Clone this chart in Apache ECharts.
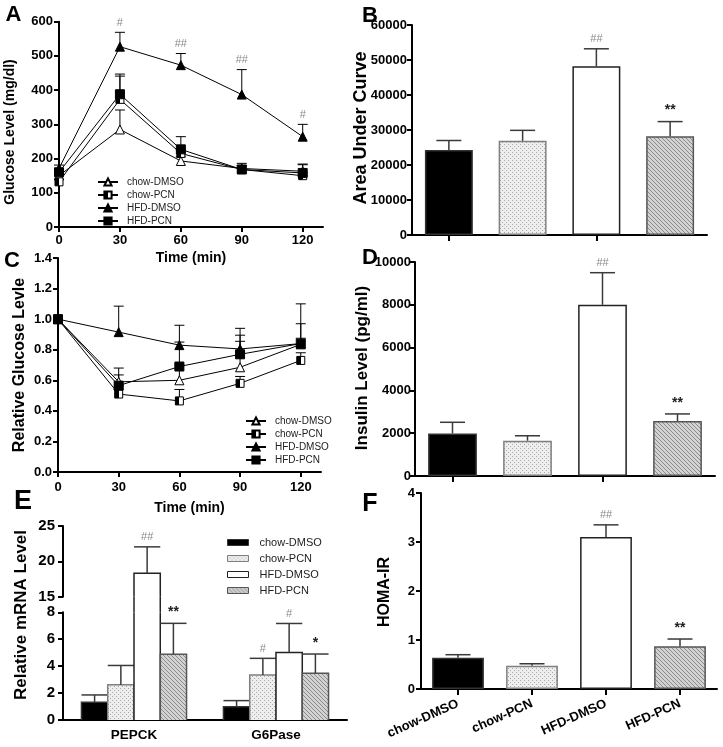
<!DOCTYPE html>
<html><head><meta charset="utf-8">
<script src="https://cdn.jsdelivr.net/npm/echarts@6/dist/echarts.min.js"></script>
<style>html,body{margin:0;padding:0;background:#fff}#c{width:723px;height:747px}</style>
</head><body><div id="c"></div>
<script>
const FONT = '"Liberation Sans", Arial, sans-serif';
const groups = ['chow-DMSO', 'chow-PCN', 'HFD-DMSO', 'HFD-PCN'];
const times = [0, 30, 60, 90, 120];
const timeTicks = [0, 30, 60, 90, 120];

// Panel A: glucose level (mg/dl)
const aChowDmso = [150, 285, 193, 171, 163];
const aChowDmsoErr = [10, 57, 12, 9, 19];
const aChowPcn = [132, 373, 215, 168, 150];
const aChowPcnErr = [8, 74, 12, 12, 10];
const aHfdDmso = [171, 527, 473, 387, 264];
const aHfdDmsoErr = [10, 42, 34, 73, 36];
const aHfdPcn = [160, 388, 227, 168, 158];
const aHfdPcnErr = [10, 53, 37, 18, 26];
const aSigHfdDmso = ['', '#', '##', '##', '#'];

// Panel B: area under curve
const bAuc = [24300, 26900, 48200, 28200];
const bAucErr = [2700, 3000, 5000, 4200];
const bSig = ['', '', '##', '**'];

// Panel C: relative glucose level
const cChowDmso = [1, 0.59, 0.60, 0.685, 0.835];
const cChowDmsoErr = [0, 0.09, 0.10, 0.21, 0.135];
const cChowPcn = [1, 0.51, 0.465, 0.58, 0.73];
const cChowPcnErr = [0, 0.03, 0.075, 0.045, 0.05];
const cHfdDmso = [1, 0.915, 0.83, 0.805, 0.84];
const cHfdDmsoErr = [0, 0.17, 0.13, 0.135, 0.26];
const cHfdPcn = [1, 0.565, 0.69, 0.77, 0.84];
const cHfdPcnErr = [0, 0.07, 0.16, 0.085, 0.035];

// Panel D: insulin level (pg/ml)
const dInsulin = [1990, 1650, 8000, 2570];
const dInsulinErr = [520, 230, 1500, 330];
const dSig = ['', '', '##', '**'];

// Panel E: relative mRNA level
const genes = ['PEPCK', 'G6Pase'];
const eChowDmso = [1.31, 0.99];
const eChowDmsoErr = [0.55, 0.45];
const eChowPcn = [2.62, 3.34];
const eChowPcnErr = [1.43, 1.24];
const eHfdDmso = [18.3, 5.02];
const eHfdDmsoErr = [3.75, 2.15];
const eHfdPcn = [4.88, 3.47];
const eHfdPcnErr = [2.3, 1.43];
const eSigChowDmso = ['', ''];
const eSigChowPcn = ['', '#'];
const eSigHfdDmso = ['##', '#'];
const eSigHfdPcn = ['**', '*'];

// Panel F: HOMA-IR
const fHoma = [0.64, 0.475, 3.10, 0.87];
const fHomaErr = [0.06, 0.04, 0.25, 0.15];
const fSig = ['', '', '##', '**'];

// ---------- styles ----------
function makeDots() {
  const c = document.createElement('canvas'); c.width = 4; c.height = 4;
  const g = c.getContext('2d');
  g.fillStyle = '#eeeeee'; g.fillRect(0, 0, 4, 4);
  g.fillStyle = '#a8a8a8'; g.fillRect(0, 0, 1, 1); g.fillRect(2, 2, 1, 1);
  return c;
}
function makeHatch() {
  const n = 4;
  const c = document.createElement('canvas'); c.width = n; c.height = n;
  const g = c.getContext('2d');
  g.fillStyle = '#d2d2d2'; g.fillRect(0, 0, n, n);
  g.fillStyle = '#8c8c8c';
  for (let i = 0; i < n; i++) g.fillRect(i, i, 1, 1);
  return c;
}
const dotPat = { image: makeDots(), repeat: 'repeat' };
const hatchPat = { image: makeHatch(), repeat: 'repeat' };
const barFill = ['#000000', dotPat, '#ffffff', hatchPat];
const barBorder = ['#333333', '#808080', '#222222', '#555555'];
const errStyle = { stroke: '#3a3a3a', lineWidth: 1.5 };

const halfSq = new echarts.graphic.LinearGradient(0, 0, 1, 0, [
  { offset: 0, color: '#000' }, { offset: 0.5, color: '#000' },
  { offset: 0.5, color: '#fff' }, { offset: 1, color: '#fff' }]);
const lineMarks = [
  { symbol: 'triangle', size: 9, fill: '#ffffff' },
  { symbol: 'rect', size: 8, fill: halfSq },
  { symbol: 'triangle', size: 9, fill: '#000000' },
  { symbol: 'rect', size: 9, fill: '#000000' }
];

function sigText(x, y, s) {
  const hash = s.indexOf('#') >= 0;
  return { type: 'text', x: x, y: y, style: {
    text: s, align: 'center', verticalAlign: 'bottom',
    fill: hash ? '#8a8a8a' : '#222222',
    font: hash ? 'normal 11px ' + FONT : 'bold 14px ' + FONT } };
}

// ---------- axes helpers ----------
function yAx(grid, min, max, interval, fs, margin, extra) {
  return Object.assign({
    type: 'value', gridIndex: grid, min: min, max: max, interval: interval,
    axisLine: { show: true, onZero: false, lineStyle: { color: '#000', width: 2 } },
    axisTick: { show: true, length: 5, lineStyle: { color: '#000', width: 2 } },
    axisLabel: { fontFamily: FONT, fontWeight: 'bold', fontSize: fs, color: '#000', margin: margin,
      formatter: v => String(v) },
    splitLine: { show: false }
  }, extra || {});
}
function timeAx(grid, margin, nameGap) {
  return {
    type: 'value', gridIndex: grid, min: 0, max: 130,
    axisLine: { show: true, onZero: false, lineStyle: { color: '#000', width: 2 } },
    axisTick: { show: true, length: 5, customValues: timeTicks, lineStyle: { color: '#000', width: 2 } },
    axisLabel: { customValues: timeTicks, fontFamily: FONT, fontWeight: 'bold', fontSize: 13, color: '#000', margin: margin },
    splitLine: { show: false },
    name: 'Time (min)', nameLocation: 'middle', nameGap: nameGap,
    nameTextStyle: { fontFamily: FONT, fontWeight: 'bold', fontSize: 14, color: '#000' }
  };
}
function catAx(grid, data, labelOpt, tickShow) {
  return {
    type: 'category', gridIndex: grid, data: data,
    axisLine: { show: true, onZero: false, lineStyle: { color: '#000', width: 2 } },
    axisTick: { show: tickShow, alignWithLabel: true, length: 6, lineStyle: { color: '#000', width: 2 } },
    axisLabel: Object.assign({ fontFamily: FONT, fontWeight: 'bold', color: '#000' }, labelOpt),
    splitLine: { show: false }
  };
}
function hiddenCat(grid, data) {
  return { type: 'category', gridIndex: grid, data: data, show: false };
}

// ---------- series helpers ----------
function lineSeries(prefix, axis, vals, j) {
  const m = lineMarks[j];
  return {
    type: 'line', name: prefix + '|' + groups[j], xAxisIndex: axis, yAxisIndex: axis,
    data: times.map((t, i) => [t, vals[i]]),
    symbol: m.symbol, symbolSize: m.size, showAllSymbol: true,
    itemStyle: { color: m.fill, borderColor: '#000', borderWidth: 1 },
    lineStyle: { color: '#000', width: 1 }, z: 3
  };
}
function lineErr(axis, vals, errs, sigs, name) {
  return {
    type: 'custom', name: name, xAxisIndex: axis, yAxisIndex: axis, z: 2,
    data: times.map((t, i) => [t, vals[i], errs[i]]),
    renderItem: function (params, api) {
      const i = params.dataIndex;
      const t = api.value(0), v = api.value(1), e = api.value(2);
      const ch = [];
      const p0 = api.coord([t, v]), p1 = api.coord([t, v + e]);
      if (e > 0) {
        ch.push({ type: 'line', shape: { x1: p0[0], y1: p0[1], x2: p1[0], y2: p1[1] }, style: { stroke: '#000', lineWidth: 1 } });
        ch.push({ type: 'line', shape: { x1: p1[0] - 5, y1: p1[1], x2: p1[0] + 5, y2: p1[1] }, style: { stroke: '#000', lineWidth: 1 } });
      }
      if (sigs && sigs[i]) ch.push(sigText(p1[0], p1[1] - 4, sigs[i]));
      return { type: 'group', children: ch };
    }
  };
}
function barSeries(axis, vals, name) {
  return {
    type: 'bar', name: name, xAxisIndex: axis, yAxisIndex: axis, barWidth: axis === 7 ? '70%' : '65%', z: 2,
    data: vals.map((v, i) => ({ value: v, itemStyle: { color: barFill[i], borderColor: barBorder[i], borderWidth: 1.5 } }))
  };
}
function barErr(axis, vals, errs, sigs, name) {
  return {
    type: 'custom', name: name, xAxisIndex: axis, yAxisIndex: axis, z: 3,
    data: vals.map((v, i) => [i, v, errs[i]]),
    renderItem: function (params, api) {
      const i = params.dataIndex;
      const c = api.value(0), v = api.value(1), e = api.value(2);
      const p0 = api.coord([c, v]), p1 = api.coord([c, v + e]);
      const ch = [
        { type: 'line', shape: { x1: p0[0], y1: p0[1], x2: p1[0], y2: p1[1] }, style: errStyle },
        { type: 'line', shape: { x1: p1[0] - 12.5, y1: p1[1], x2: p1[0] + 12.5, y2: p1[1] }, style: errStyle }
      ];
      if (sigs[i]) ch.push(sigText(p1[0], p1[1] - 4, sigs[i]));
      return { type: 'group', children: ch };
    }
  };
}

// Panel E: broken axis drawn with three stacked grids
const eVals = [eChowDmso, eChowPcn, eHfdDmso, eHfdPcn];
const eErrs = [eChowDmsoErr, eChowPcnErr, eHfdDmsoErr, eHfdPcnErr];
const eSigs = [eSigChowDmso, eSigChowPcn, eSigHfdDmso, eSigHfdPcn];
const eSegs = [{ min: 0, max: 8, axis: 4 }, { min: 8, max: 15, axis: 5 }, { min: 15, max: 25, axis: 6 }];
const E_GAP = 0.26;
function eRender(seg, j) {
  return function (params, api) {
    const c = api.value(0), v = api.value(1), e = api.value(2);
    const band = api.size([1, 0])[0];
    const n = groups.length;
    const w = band * (1 - E_GAP) / n;
    const base = api.coord([c, seg.min]);
    const x = base[0] - w * n / 2 + j * w;
    const ch = [];
    const edge = { stroke: barBorder[j], lineWidth: 1.5, fill: null };
    if (v > seg.min) {
      const topV = Math.min(v, seg.max);
      const yt = api.coord([c, topV])[1];
      ch.push({ type: 'rect', shape: { x: x, y: yt, width: w, height: base[1] - yt }, style: { fill: barFill[j] } });
      if (v <= seg.max) {
        ch.push({ type: 'polyline', shape: { points: [[x, base[1]], [x, yt], [x + w, yt], [x + w, base[1]]] }, style: edge });
      } else {
        ch.push({ type: 'line', shape: { x1: x, y1: base[1], x2: x, y2: yt }, style: edge });
        ch.push({ type: 'line', shape: { x1: x + w, y1: base[1], x2: x + w, y2: yt }, style: edge });
      }
    }
    const top = v + e;
    if (e > 0 && top > seg.min && v < seg.max) {
      const a = Math.max(v, seg.min), b = Math.min(top, seg.max);
      const ya = api.coord([c, a])[1], yb = api.coord([c, b])[1];
      const xm = x + w / 2;
      ch.push({ type: 'line', shape: { x1: xm, y1: ya, x2: xm, y2: yb }, style: errStyle });
      if (top <= seg.max) {
        ch.push({ type: 'line', shape: { x1: x, y1: yb, x2: x + w, y2: yb }, style: errStyle });
        const s = eSigs[j][params.dataIndex];
        if (s) ch.push(sigText(xm, yb - 4, s));
      }
    }
    return { type: 'group', children: ch };
  };
}
const eSeries = [];
eSegs.forEach((seg, k) => {
  groups.forEach((g, j) => {
    eSeries.push({
      type: 'custom', name: k === 0 ? 'E|' + g : 'E|' + g + '|' + k,
      xAxisIndex: seg.axis, yAxisIndex: seg.axis, z: 2,
      itemStyle: { color: barFill[j], borderColor: barBorder[j] },
      data: genes.map((_, c) => [c, eVals[j][c], eErrs[j][c]]),
      renderItem: eRender(seg, j)
    });
  });
});

const stripPrefix = name => name.split('|')[1];
const legendText = { fontFamily: FONT, fontSize: 10, color: '#222', lineHeight: 10, padding: [0, 0, 0, 4] };

function yName(text, x, y, size) {
  return { type: 'text', x: x, y: y, rotation: Math.PI / 2,
    style: { text: text, align: 'center', verticalAlign: 'middle', fill: '#000', font: 'bold ' + size + 'px ' + FONT } };
}
function letter(text, x, y, size) {
  return { type: 'text', x: x, y: y,
    style: { text: text, align: 'center', verticalAlign: 'middle', fill: '#000', font: 'bold ' + size + 'px ' + FONT } };
}

const option = {
  animation: false,
  backgroundColor: '#fff',
  grid: [
    { left: 59, top: 21.7, width: 264, height: 205.3, outerBoundsMode: 'none' },
    { left: 412, top: 25, width: 295, height: 210, outerBoundsMode: 'none' },
    { left: 58, top: 258, width: 263, height: 214, outerBoundsMode: 'none' },
    { left: 415, top: 262, width: 300, height: 214, outerBoundsMode: 'none' },
    { left: 63, top: 612.3, width: 284, height: 107.7, outerBoundsMode: 'none' },
    { left: 63, top: 596.7, width: 284, height: 15.6, outerBoundsMode: 'none' },
    { left: 63, top: 526, width: 284, height: 70.7, outerBoundsMode: 'none' },
    { left: 421, top: 493, width: 296, height: 196, outerBoundsMode: 'none' }
  ],
  xAxis: [
    timeAx(0, 7, 24),
    catAx(1, groups, { show: false }, true),
    timeAx(2, 9, 29),
    catAx(3, groups, { show: false }, true),
    catAx(4, genes, { fontSize: 13.5, margin: 8 }, false),
    hiddenCat(5, genes),
    hiddenCat(6, genes),
    catAx(7, groups, { fontSize: 13, rotate: 24, margin: 14 }, true)
  ],
  yAxis: [
    yAx(0, 0, 600, 100, 13, 6),
    yAx(1, 0, 60000, 10000, 13, 5),
    yAx(2, 0, 1.4, 0.2, 13, 6),
    yAx(3, 0, 10000, 2000, 13, 4),
    yAx(4, 0, 8, 2, 15, 8),
    { type: 'value', gridIndex: 5, min: 8, max: 15, show: false },
    yAx(6, 15, 25, 5, 15, 8),
    yAx(7, 0, 4, 1, 13, 6)
  ],
  legend: [
    { orient: 'vertical', left: 97, top: 177, padding: 0, itemWidth: 20, itemHeight: 9, itemGap: 3,
      selectedMode: false, data: groups.map(g => 'A|' + g), formatter: stripPrefix, textStyle: legendText },
    { orient: 'vertical', left: 245, top: 416, padding: 0, itemWidth: 20, itemHeight: 9, itemGap: 3,
      selectedMode: false, data: groups.map(g => 'C|' + g), formatter: stripPrefix, textStyle: legendText },
    { orient: 'vertical', left: 227, top: 537, padding: 0, itemWidth: 21, itemHeight: 6, itemGap: 5,
      selectedMode: false, formatter: stripPrefix,
      data: groups.map((g, j) => ({ name: 'E|' + g, icon: 'rect',
        itemStyle: { color: barFill[j], borderColor: barBorder[j], borderWidth: 1 } })),
      textStyle: { fontFamily: FONT, fontSize: 11, color: '#222', lineHeight: 7, padding: [0, 0, 0, 6] } }
  ],
  graphic: [
    letter('A', 13.5, 15, 22), letter('B', 370, 16, 22), letter('C', 12, 261, 22),
    letter('D', 370, 258, 22), letter('E', 23, 502, 27), letter('F', 370, 504, 25),
    yName('Glucose Level (mg/dl)', 10, 132, 14),
    yName('Area Under Curve', 361, 128, 18),
    yName('Relative Glucose Levle', 20, 365, 16),
    yName('Insulin Level (pg/ml)', 362, 368, 17),
    yName('Relative mRNA Level', 21, 615, 17),
    yName('HOMA-IR', 385, 592, 16)
  ],
  series: [
    lineErr(0, aChowDmso, aChowDmsoErr, null, 'errA0'),
    lineErr(0, aChowPcn, aChowPcnErr, null, 'errA1'),
    lineErr(0, aHfdDmso, aHfdDmsoErr, aSigHfdDmso, 'errA2'),
    lineErr(0, aHfdPcn, aHfdPcnErr, null, 'errA3'),
    lineSeries('A', 0, aChowDmso, 0),
    lineSeries('A', 0, aChowPcn, 1),
    lineSeries('A', 0, aHfdDmso, 2),
    lineSeries('A', 0, aHfdPcn, 3),
    barSeries(1, bAuc, 'AUC'),
    barErr(1, bAuc, bAucErr, bSig, 'errB'),
    lineErr(2, cChowDmso, cChowDmsoErr, null, 'errC0'),
    lineErr(2, cChowPcn, cChowPcnErr, null, 'errC1'),
    lineErr(2, cHfdDmso, cHfdDmsoErr, null, 'errC2'),
    lineErr(2, cHfdPcn, cHfdPcnErr, null, 'errC3'),
    lineSeries('C', 2, cChowDmso, 0),
    lineSeries('C', 2, cChowPcn, 1),
    lineSeries('C', 2, cHfdDmso, 2),
    lineSeries('C', 2, cHfdPcn, 3),
    barSeries(3, dInsulin, 'Insulin'),
    barErr(3, dInsulin, dInsulinErr, dSig, 'errD'),
    ...eSeries,
    barSeries(7, fHoma, 'HOMA'),
    barErr(7, fHoma, fHomaErr, fSig, 'errF')
  ]
};
option.yAxis[2].axisLabel.formatter = v => v.toFixed(1);

const chart = echarts.init(document.getElementById('c'), null, { renderer: 'canvas' });
chart.setOption(option);
</script>
</body></html>
